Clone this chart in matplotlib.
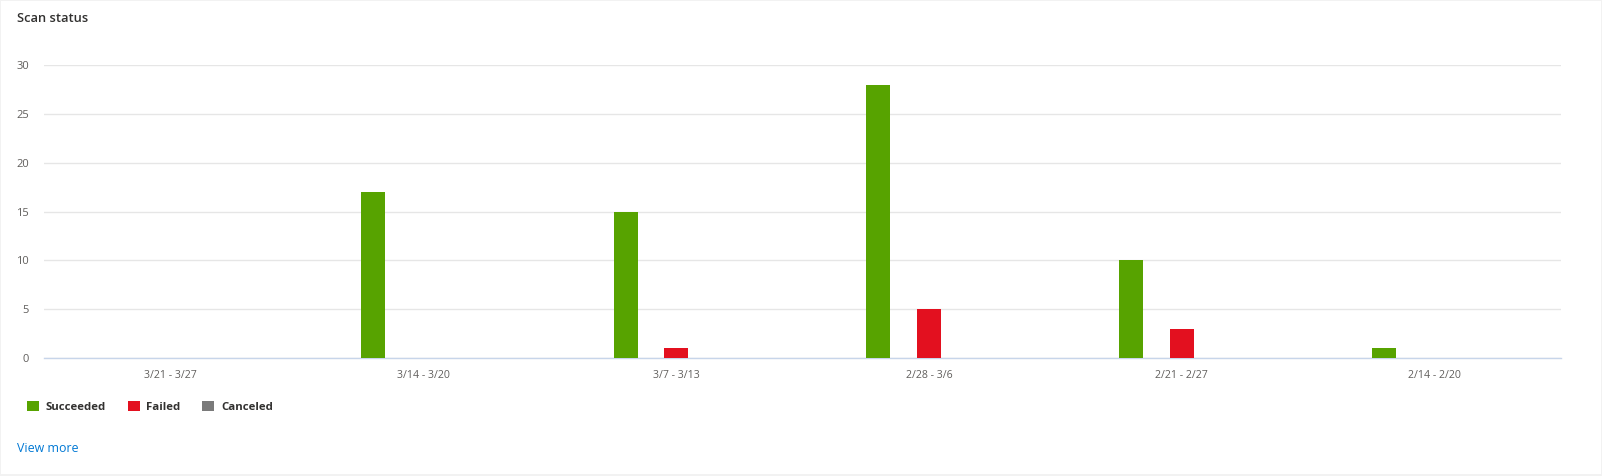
import numpy as np
import matplotlib
matplotlib.use('Agg')
import matplotlib.pyplot as plt
from matplotlib.patches import Rectangle

weeks = ['3/21 - 3/27', '3/14 - 3/20', '3/7 - 3/13', '2/28 - 3/6', '2/21 - 2/27', '2/14 - 2/20']
succeeded = [0, 17, 15, 28, 10, 1]
failed = [0, 0, 1, 5, 3, 0]
canceled = [0, 0, 0, 0, 0, 0]
y_ticks = [0, 5, 10, 15, 20, 25, 30]

#colour scheme
green = '#57a300'
red = '#e3101f'
grey = '#7a7a7a'
label_grey = '#605e5c'
dark = '#323130'
link = '#0078d4'
grid = '#e6e6e6'
base = '#c7d5ea'

plt.rcParams['font.family'] = ['Open Sans', 'DejaVu Sans']

W, H = 1602, 476
fig = plt.figure(figsize=(W / 100, H / 100), dpi=100, facecolor='#f2f2f2')

# white card behind everything
fig.add_artist(Rectangle((1 / W, 1 - 474 / H), 1600 / W, 473 / H, transform=fig.transFigure,
                         facecolor='white', edgecolor='none', zorder=-1))

ax = fig.add_axes([44 / W, 1 - 358 / H, (1561 - 44) / W, (358 - 65) / H])
ax.patch.set_alpha(0)

x = np.arange(len(weeks))
offset = 0.2
width = 0.095
ax.bar(x - offset, succeeded, width, color=green, label='Succeeded', zorder=3)
ax.bar(x, failed, width, color=red, label='Failed', zorder=3)
ax.bar(x + offset, canceled, width, color=grey, label='Canceled', zorder=3)

ax.set_xlim(-0.5, len(weeks) - 0.5)
ax.set_ylim(0, 30)
ax.set_xticks(x)
ax.set_xticklabels(weeks)
ax.set_yticks(y_ticks)
ax.tick_params(axis='x', length=0, pad=8.7, labelsize=7.6, labelcolor=label_grey)
ax.tick_params(axis='y', length=0, pad=10.8, labelsize=8, labelcolor=label_grey)
ax.grid(axis='y', color=grid, linewidth=1, zorder=0)
ax.set_axisbelow(True)
for s in ['top', 'right', 'left']:
    ax.spines[s].set_visible(False)
ax.spines['bottom'].set_color(base)
ax.spines['bottom'].set_linewidth(1)

leg = fig.legend(loc='upper left', bbox_to_anchor=(27 / W, 1 - 400.5 / H), ncol=3, frameon=False,
                 handlelength=1.05, handleheight=1.05, handletextpad=0.6, columnspacing=1.9,
                 borderpad=0, borderaxespad=0,
                 prop={'size': 8.2, 'weight': 'bold'})
for t in leg.get_texts():
    t.set_color(dark)

fig.text(17 / W, 1 - 18 / H, 'Scan status', fontsize=9.3, fontweight='semibold', color=dark, va='center')
fig.text(17 / W, 1 - 449 / H, 'View more', fontsize=8.9, color=link, va='center')

fig.savefig('out.png', dpi=100, facecolor=fig.get_facecolor())
